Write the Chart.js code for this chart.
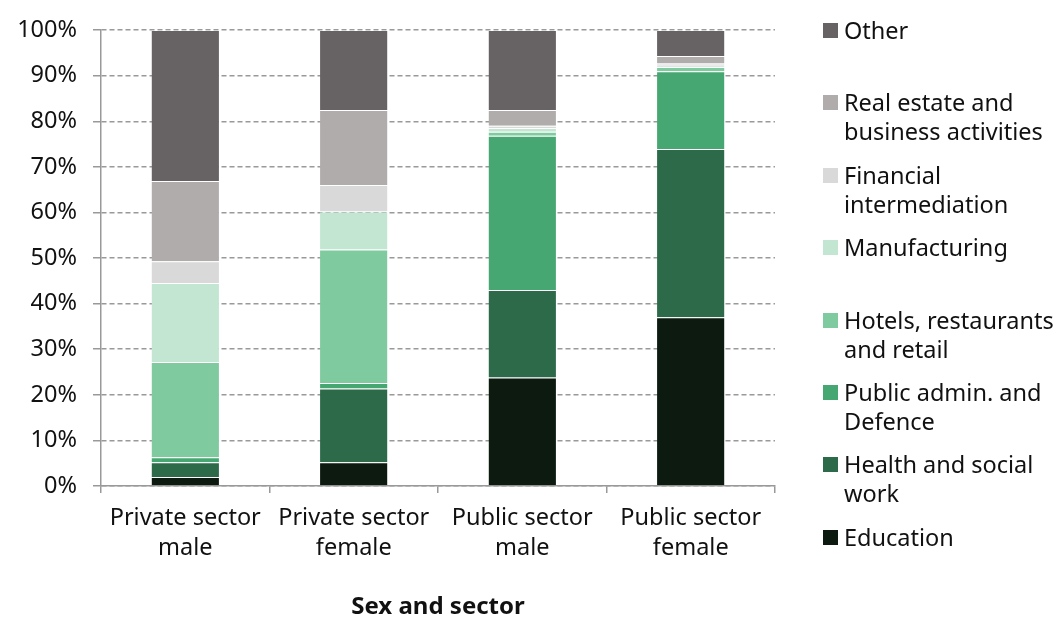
<!DOCTYPE html>
<html>
<head>
<meta charset="utf-8">
<script src="https://cdn.jsdelivr.net/npm/chart.js@4/dist/chart.umd.min.js"></script>
<style>
  html, body { margin: 0; padding: 0; background: #fff; }
  #wrap { position: relative; width: 1063px; height: 620px; }
  #legend { position: absolute; left: 823px; top: 0; font-family: "Noto Sans", sans-serif; font-size: 23.5px; color: #111; }
  .item { position: absolute; left: 0; white-space: nowrap; line-height: 29px; }
  .box { position: absolute; left: 0; top: 7px; width: 15px; height: 15px; }
  .txt { position: absolute; left: 21px; top: 0; }
</style>
</head>
<body>
<div id="wrap">
  <canvas id="sectorChart" width="1063" height="620"></canvas>
  <div id="legend"></div>
</div>
<script>
// categories and series (percent of employment)
const categories = [['Private sector', 'male'], ['Private sector', 'female'], ['Public sector', 'male'], ['Public sector', 'female']];
const education     = [2.0, 5.2, 23.8, 37.0];
const health        = [3.2, 16.2, 19.2, 36.9];
const publicAdmin   = [1.1, 1.2, 33.8, 17.1];
const hotels        = [20.9, 29.3, 0.9, 0.9];
const manufacturing = [17.3, 8.3, 0.8, 0.3];
const financial     = [4.8, 5.8, 0.5, 0.5];
const realEstate    = [17.6, 16.5, 3.5, 1.6];
const other         = [33.1, 17.5, 17.5, 5.7];
const yTicks = [0, 10, 20, 30, 40, 50, 60, 70, 80, 90, 100];

const series = [
  { label: 'Education', data: education, color: '#0c1a10' },
  { label: 'Health and social work', data: health, color: '#2d6a4a' },
  { label: 'Public admin. and Defence', data: publicAdmin, color: '#47a772' },
  { label: 'Hotels, restaurants and retail', data: hotels, color: '#7fca9f' },
  { label: 'Manufacturing', data: manufacturing, color: '#c3e6d3' },
  { label: 'Financial intermediation', data: financial, color: '#dad9d9' },
  { label: 'Real estate and business activities', data: realEstate, color: '#b0acac' },
  { label: 'Other', data: other, color: '#676263' },
];

const font = { family: '"Noto Sans", sans-serif', size: 23.5 };

new Chart(document.getElementById('sectorChart').getContext('2d'), {
  type: 'bar',
  data: {
    labels: categories,
    datasets: series.map(s => ({
      label: s.label,
      data: s.data,
      backgroundColor: s.color,
      borderColor: 'rgba(255,255,255,0.2)',
      borderWidth: { top: 1 },
      borderSkipped: false,
      barPercentage: 0.4,
      categoryPercentage: 1,
    })),
  },
  options: {
    responsive: false,
    animation: false,
    layout: { padding: { top: 29, right: 288, left: 0, bottom: 0 } },
    plugins: { legend: { display: false }, tooltip: { enabled: false } },
    scales: {
      x: {
        stacked: true,
        grid: { drawOnChartArea: false, drawTicks: true, tickLength: 7, color: '#999', lineWidth: 1.5 },
        border: { color: '#999', width: 1.5 },
        ticks: { color: '#111', font: { family: font.family, size: font.size, lineHeight: 1.28 }, padding: 10, maxRotation: 0 },
        title: { display: true, text: 'Sex and sector', color: '#111', font: { family: font.family, size: 24, weight: 'bold' }, padding: { top: 0, bottom: -2 } },
        afterFit: scale => { scale.height = 134; },
      },
      y: {
        stacked: true,
        min: 0,
        max: 100,
        afterBuildTicks: scale => { scale.ticks = yTicks.map(v => ({ value: v })); },
        grid: { color: '#999', lineWidth: 1.5, tickLength: 8 },
        border: { color: '#999', width: 1.5, dash: [5, 3] },
        ticks: { color: '#111', font: font, padding: 16, callback: v => v + '%' },
        afterFit: scale => { scale.width = 101; },
      },
    },
  },
});

// legend on the right, top to bottom as in the picture
const legendRows = [
  { i: 7, top: 16, lines: ['Other'] },
  { i: 6, top: 88, lines: ['Real estate and', 'business activities'] },
  { i: 5, top: 161, lines: ['Financial', 'intermediation'] },
  { i: 4, top: 233, lines: ['Manufacturing'] },
  { i: 3, top: 306, lines: ['Hotels, restaurants', 'and retail'] },
  { i: 2, top: 378, lines: ['Public admin. and', 'Defence'] },
  { i: 1, top: 450, lines: ['Health and social', 'work'] },
  { i: 0, top: 523, lines: ['Education'] },
];
const legend = document.getElementById('legend');
legendRows.forEach(r => {
  const item = document.createElement('div');
  item.className = 'item';
  item.style.top = r.top + 'px';
  item.innerHTML = '<div class="box" style="background:' + series[r.i].color + '"></div>' +
    '<div class="txt">' + r.lines.join('<br>') + '</div>';
  legend.appendChild(item);
});
</script>
</body>
</html>
